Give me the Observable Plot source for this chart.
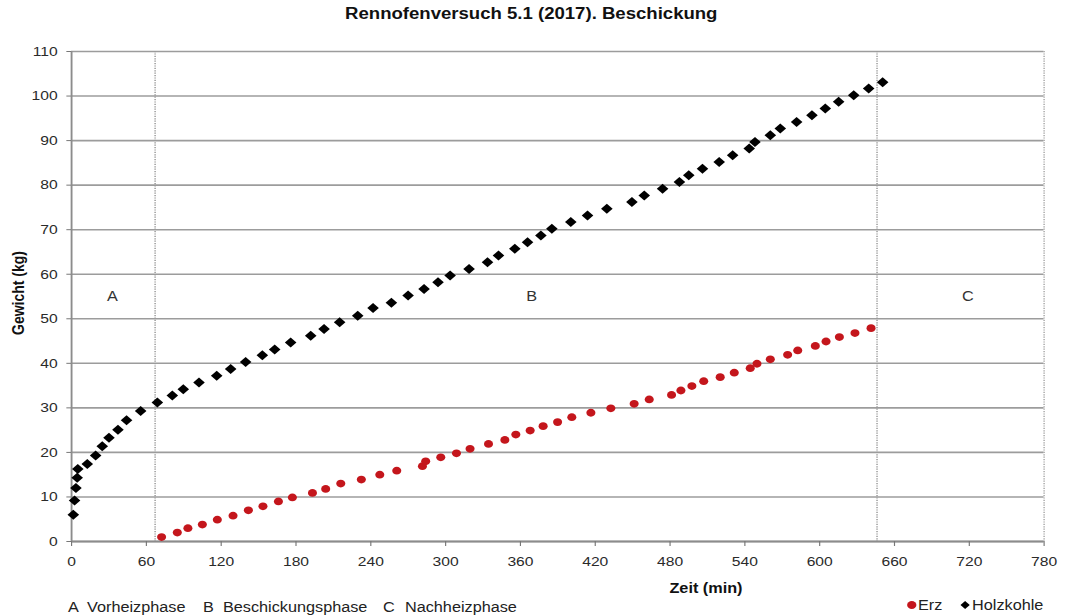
<!DOCTYPE html>
<html>
<head>
<meta charset="utf-8">
<script src="https://cdn.jsdelivr.net/npm/d3@7"></script>
<script src="https://cdn.jsdelivr.net/npm/@observablehq/plot@0.6"></script>
<style>
  html, body { margin: 0; padding: 0; background: #fff; overflow: hidden; }
  #stage { position: relative; width: 922px; height: 616px; transform: scaleX(1.16); transform-origin: 0 0;
           font-family: "Liberation Sans", Arial, sans-serif; color: #222; }
  #chart { position: absolute; left: 0; top: 0; }
  .t { position: absolute; white-space: nowrap; line-height: 1; }
  #title { left: 458px; top: 14px; transform: translate(-50%, -50%); font-size: 16px; font-weight: bold; color: #111; }
  #ytitle { left: 15.5px; top: 293px; transform: translate(-50%, -50%) rotate(-90deg); font-size: 14px; font-weight: bold; color: #111; }
  #xtitle { left: 608.6px; top: 588px; transform: translate(-50%, -50%); font-size: 14px; font-weight: bold; color: #111; }
  .foot { top: 606.5px; transform: translateY(-50%); font-size: 14px; color: #222; }
  .leg { top: 605px; transform: translateY(-50%); font-size: 14px; color: #222; }
  .sym { position: absolute; width: 10px; height: 10px; line-height: 0; }
  .sym svg { display: block; }
</style>
</head>
<body>
<div id="stage">
  <div id="chart"></div>
  <div class="t" id="title"></div>
  <div class="t" id="ytitle"></div>
  <div class="t" id="xtitle"></div>
  <div id="footer"></div>
  <div id="legend"></div>
</div>
<script>
// ---------- data ----------
const chartTitle = "Rennofenversuch 5.1 (2017). Beschickung";
const yTitle = "Gewicht (kg)";
const xTitle = "Zeit (min)";

const xTicks = [0, 60, 120, 180, 240, 300, 360, 420, 480, 540, 600, 660, 720, 780];
const yTicks = [0, 10, 20, 30, 40, 50, 60, 70, 80, 90, 100, 110];

const phaseBounds = [67, 646];
const frameRight = [780];
const phaseLetters = ["A", "B", "C"];
const phaseNames = ["Vorheizphase", "Beschickungsphase", "Nachheizphase"];
const phaseLabelX = [32.7, 368.9, 718.8];
const phaseLabelY = [55, 55, 55];

const seriesNames = ["Erz", "Holzkohle"];

const holzTime = [1.4, 2.4, 3.5, 4.5, 5.0, 12.6, 19.3, 24.6, 30.0, 37.2, 44.1, 55.4, 68.8, 80.8, 89.6,
  102.2, 116.4, 127.6, 139.6, 153.0, 162.9, 175.7, 191.8, 202.5, 215.0, 229.5, 241.8, 256.5, 269.9,
  282.7, 293.9, 303.6, 318.8, 333.6, 342.4, 355.5, 365.7, 376.4, 385.2, 400.4, 413.8, 429.3, 449.4,
  459.3, 474.0, 487.5, 495.0, 506.0, 519.4, 530.2, 543.5, 548.1, 560.4, 568.4, 581.5, 593.8, 604.5,
  615.2, 627.3, 639.3, 650.5];
const holzWeight = [6.0, 9.2, 12.0, 14.3, 16.3, 17.4, 19.3, 21.4, 23.3, 25.1, 27.2, 29.3, 31.2, 32.8, 34.2,
  35.7, 37.2, 38.7, 40.3, 41.8, 43.1, 44.7, 46.2, 47.7, 49.2, 50.7, 52.4, 53.6, 55.2,
  56.7, 58.2, 59.7, 61.2, 62.7, 64.2, 65.7, 67.2, 68.7, 70.2, 71.7, 73.2, 74.7, 76.2,
  77.7, 79.2, 80.7, 82.2, 83.7, 85.2, 86.7, 88.2, 89.7, 91.2, 92.7, 94.2, 95.7, 97.2,
  98.7, 100.2, 101.7, 103.1];

const erzTime = [72.2, 84.8, 93.3, 104.9, 116.9, 129.5, 141.8, 153.5, 165.9, 177.1, 193.2, 203.8, 215.9,
  232.4, 247.2, 260.8, 281.4, 284.0, 296.1, 308.7, 319.6, 334.4, 347.5, 356.3, 367.8, 378.2, 389.8,
  401.2, 416.5, 432.5, 451.2, 463.3, 481.2, 488.7, 497.5, 507.0, 520.2, 531.5, 544.3, 549.7, 560.4,
  574.3, 582.4, 596.5, 605.1, 615.8, 628.3, 641.2];
const erzWeight = [1.0, 2.0, 3.0, 3.8, 4.9, 5.8, 7.0, 7.9, 9.0, 9.9, 10.9, 11.8, 13.0,
  13.9, 15.0, 15.9, 16.9, 18.0, 18.9, 19.8, 20.8, 21.9, 22.8, 24.0, 24.9, 25.9, 26.8,
  27.9, 28.9, 29.9, 30.9, 31.9, 32.9, 33.9, 34.9, 36.0, 36.9, 37.9, 38.9, 39.9, 40.9,
  41.9, 42.9, 43.9, 44.9, 45.9, 46.8, 47.9];

const erzColor = "#c4161c";
const holzColor = "#000000";

// ---------- chart ----------
const gridColor = "#9c9c9c";
const plot = Plot.plot({
  width: 922,
  height: 616,
  marginLeft: 61.2,
  marginRight: 22.4,
  marginTop: 51,
  marginBottom: 75,
  x: { domain: [0, 780] },
  y: { domain: [0, 110] },
  style: { fontFamily: "'Liberation Sans', Arial, sans-serif", fontSize: "13px", color: "#333", background: "transparent", overflow: "visible" },
  marks: [
    Plot.gridY(yTicks, { stroke: gridColor, strokeOpacity: 1, strokeWidth: 1.6 }),
    Plot.ruleX(phaseBounds, { stroke: "#9a9a9a", strokeWidth: 1.3, strokeDasharray: "1.2,1.2" }),
    Plot.ruleX(frameRight, { stroke: "#a8a8a8", strokeWidth: 1.3, strokeDasharray: "1.2,1.2" }),
    Plot.ruleX([0], { stroke: "#8c8c8c", strokeWidth: 1.6 }),
    Plot.ruleY([0], { stroke: "#8c8c8c", strokeWidth: 1.8 }),
    Plot.axisX({ ticks: xTicks, tickSize: 5, tickPadding: 10, label: null, stroke: "#777", fill: "#2a2a2a", fontSize: 13.5 }),
    Plot.axisY({ ticks: yTicks, tickSize: 4, tickPadding: 8, label: null, stroke: "#777", fill: "#2a2a2a", fontSize: 13.5 }),
    Plot.text(phaseLetters, { x: (d, i) => phaseLabelX[i], y: (d, i) => phaseLabelY[i], text: d => d, fontSize: 14, fill: "#333" }),
    Plot.dot(erzTime, { x: d => d, y: (d, i) => erzWeight[i], r: 3.9, fill: erzColor, stroke: "none" }),
    Plot.dot(holzTime, { x: d => d, y: (d, i) => holzWeight[i], r: 4.5, symbol: "diamond2", fill: holzColor, stroke: "none" })
  ]
});
document.getElementById("chart").appendChild(plot);

document.getElementById("title").textContent = chartTitle;
document.getElementById("ytitle").textContent = yTitle;
document.getElementById("xtitle").textContent = xTitle;

// footer: phase legend
const footX = [[58.6, 75], [175, 192.2], [330.2, 349.1]];
const footer = document.getElementById("footer");
phaseLetters.forEach((l, i) => {
  const a = document.createElement("div");
  a.className = "t foot"; a.style.left = footX[i][0] + "px"; a.textContent = l;
  const b = document.createElement("div");
  b.className = "t foot"; b.style.left = footX[i][1] + "px"; b.textContent = phaseNames[i];
  footer.appendChild(a); footer.appendChild(b);
});

// series legend
const legend = document.getElementById("legend");
const legSym = [
  { cx: 786, text: 791.4, svg: `<svg width="10" height="10" viewBox="-5 -5 10 10"><circle r="4" fill="${erzColor}"/></svg>` },
  { cx: 832, text: 838, svg: `<svg width="10" height="10" viewBox="-5 -5 10 10"><path d="M0,-4L4,0L0,4L-4,0Z" fill="${holzColor}"/></svg>` }
];
seriesNames.forEach((n, i) => {
  const s = document.createElement("div");
  s.className = "sym"; s.style.left = (legSym[i].cx - 5) + "px"; s.style.top = "600px";
  s.innerHTML = legSym[i].svg;
  const t = document.createElement("div");
  t.className = "t leg"; t.style.left = legSym[i].text + "px"; t.textContent = n;
  legend.appendChild(s); legend.appendChild(t);
});
</script>
</body>
</html>
